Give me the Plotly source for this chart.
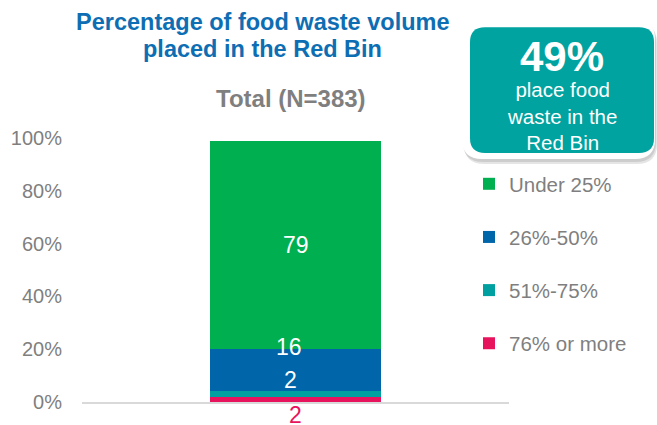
import plotly.graph_objects as go

# ---- data ----
category = ["Total"]
series_names = ["76% or more", "51%-75%", "26%-50%", "Under 25%"]   # bottom -> top
series_values = [2, 2, 16, 79]
series_colors = ["#E8135D", "#00A0A0", "#0066A9", "#00B050"]
label_texts = ["2", "2", "16", "79"]
tick_values = [0, 20, 40, 60, 80, 100]
tick_labels = ["0%", "20%", "40%", "60%", "80%", "100%"]

FONT = "Liberation Sans, Arial, sans-serif"
GRAY = "#7F7F7F"

W, H = 657, 425
# plot area in page pixels: x 82..509, y 138..402.3
L, R, T, B = 82, 657 - 509, 138, 425 - 402.3
PW, PH = W - L - R, H - T - B


def px(x):  # pixel -> paper x
    return (x - L) / PW


def py(y):  # pixel -> paper y
    return (H - B - y) / PH


def rrect(x0, y0, x1, y1, r):
    return (
        f"M {px(x0 + r)},{py(y0)} L {px(x1 - r)},{py(y0)} "
        f"Q {px(x1)},{py(y0)} {px(x1)},{py(y0 + r)} "
        f"L {px(x1)},{py(y1 - r)} Q {px(x1)},{py(y1)} {px(x1 - r)},{py(y1)} "
        f"L {px(x0 + r)},{py(y1)} Q {px(x0)},{py(y1)} {px(x0)},{py(y1 - r)} "
        f"L {px(x0)},{py(y0 + r)} Q {px(x0)},{py(y0)} {px(x0 + r)},{py(y0)} Z"
    )


fig = go.Figure()
n = len(series_names)
for i, (name, val, col) in enumerate(zip(series_names, series_values, series_colors)):
    fig.add_trace(go.Bar(
        x=category, y=[val], name=name, marker=dict(color=col, line=dict(width=0)),
        width=0.4, legendgroup=name, legendrank=n - i, hoverinfo="skip",
    ))

# data labels
cum = 0
bases = []
for v in series_values:
    bases.append(cum)
    cum += v
label_pos = [
    (bases[0], -13, series_colors[0], 0),                     # below axis
    (bases[1] + series_values[1], 11, "white", -5),           # teal label inside blue
    (bases[2] + series_values[2], 2, "white", -7),            # at top of blue
    (bases[3] + series_values[3] / 2, 0, "white", 0),          # middle of green
]
annotations = []
for txt, (yv, ys, col, xs) in zip(label_texts, label_pos):
    annotations.append(dict(
        x=category[0], y=yv, xref="x", yref="y", text=txt, showarrow=False,
        yshift=ys, xshift=xs, font=dict(family=FONT, size=23, color=col),
    ))

# titles and call-out text
annotations += [
    dict(x=px(262), y=py(22), xref="paper", yref="paper", text="<b>Percentage of food waste volume</b>",
         showarrow=False, xanchor="center", yanchor="middle",
         font=dict(family=FONT, size=23.5, color="#0E6EB3")),
    dict(x=px(262), y=py(49), xref="paper", yref="paper", text="<b>placed in the Red Bin</b>",
         showarrow=False, xanchor="center", yanchor="middle",
         font=dict(family=FONT, size=23.5, color="#0E6EB3")),
    dict(x=px(291), y=py(98), xref="paper", yref="paper", text="<b>Total (N=383)</b>",
         showarrow=False, xanchor="center", yanchor="middle",
         font=dict(family=FONT, size=24, color=GRAY)),
    dict(x=px(562), y=py(56), xref="paper", yref="paper", text="<b>49%</b>",
         showarrow=False, xanchor="center", yanchor="middle",
         font=dict(family=FONT, size=42, color="white")),
    dict(x=px(562), y=py(116), xref="paper", yref="paper", text="place food<br>waste in the<br>Red Bin",
         showarrow=False, xanchor="center", yanchor="middle",
         font=dict(family=FONT, size=20.5, color="white")),
]

shapes = [
    dict(type="path", xref="paper", yref="paper", path=rrect(464, 23, 657, 164, 20),
         fillcolor="rgba(0,0,0,0.10)", line=dict(width=0), layer="below"),
    dict(type="path", xref="paper", yref="paper", path=rrect(463, 21, 656, 162, 20),
         fillcolor="rgba(0,0,0,0.10)", line=dict(width=0), layer="below"),
    dict(type="path", xref="paper", yref="paper", path=rrect(462, 19, 655, 159, 20),
         fillcolor="white", line=dict(width=0), layer="below"),
    dict(type="path", xref="paper", yref="paper", path=rrect(470, 27, 654, 153, 15),
         fillcolor="#00A3A0", line=dict(width=0), layer="below"),
]

fig.update_layout(
    width=W, height=H, margin=dict(l=L, r=R, t=T, b=B, pad=0),
    paper_bgcolor="white", plot_bgcolor="white",
    barmode="stack", showlegend=True,
    font=dict(family=FONT, color=GRAY),
    legend=dict(x=px(469), y=py(164), xanchor="left", yanchor="top",
                traceorder="grouped", tracegroupgap=23.5,
                font=dict(family=FONT, size=20.5, color=GRAY),
                bgcolor="rgba(0,0,0,0)", itemclick=False),
    xaxis=dict(showticklabels=False, showline=True, linecolor="#D9D9D9", linewidth=2,
               showgrid=False, zeroline=False, ticks="", range=[-0.5, 0.5], fixedrange=True),
    yaxis=dict(range=[0, 100], tickvals=tick_values, ticktext=tick_labels,
               showgrid=False, zeroline=False, showline=False, ticks="",
               ticklabelstandoff=19, tickfont=dict(family=FONT, size=20, color=GRAY),
               fixedrange=True),
    annotations=annotations, shapes=shapes,
)

fig.write_html(
    "out.html",
    config={"displayModeBar": False, "staticPlot": True},
    post_script="document.body.style.margin='0';document.body.style.overflow='hidden';",
)
